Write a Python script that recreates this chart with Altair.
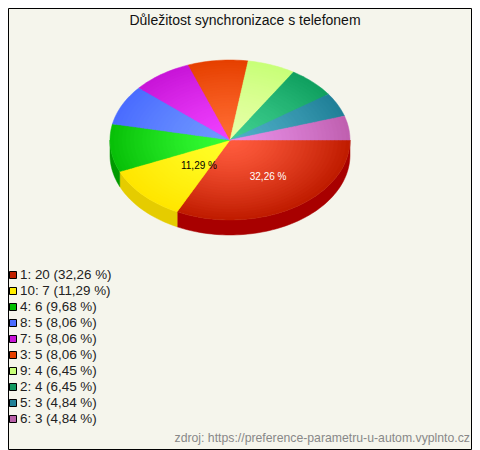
import math
import altair as alt

TITLE = "Důležitost synchronizace s telefonem"
SOURCE = "zdroj: https://preference-parametru-u-autom.vyplnto.cz"
categories = ["1", "10", "4", "8", "7", "3", "9", "2", "5", "6"]
counts = [20, 7, 6, 5, 5, 5, 4, 4, 3, 3]
percent_labels = ["32,26 %", "11,29 %", "9,68 %", "8,06 %", "8,06 %", "8,06 %", "6,45 %", "6,45 %", "4,84 %", "4,84 %"]
legend_colors = ["#c02000", "#ffee00", "#00c000", "#4a6cff", "#c815d8", "#e64000", "#c8ff78", "#109860", "#208098", "#b860a8"]
inner_colors = ["#ff5c3e", "#ffff28", "#36ff36", "#7099ff", "#f040ff", "#ff6c32", "#e8ffa8", "#40d090", "#50b0c8", "#e890e8"]
outer_colors = ["#c01c00", "#ffe600", "#08c008", "#4a6cff", "#c815d8", "#e64000", "#c8ff78", "#10a060", "#208098", "#c060b0"]
rim_colors = ["#a80000", "#e5cc00", "#009a00"]
shown_labels = {0: (0.60, 0.545, "white"), 1: (0.357, 0.47, "black")}

BG = "#f5f5ec"
W, H = 464, 442
OFF = 8
CX, CY, RX, RY, DEPTH = 230 - OFF, 140 - OFF, 120, 80, 15
RINGS = 30


def mix(a, b, t):
    pa = [int(a[i:i + 2], 16) for i in (1, 3, 5)]
    pb = [int(b[i:i + 2], 16) for i in (1, 3, 5)]
    return "#%02x%02x%02x" % tuple(round(x + (y - x) * t) for x, y in zip(pa, pb))


def arc(a0, a1, k=1.0, dy=0.0):
    n = max(2, int((a1 - a0) / 0.03))
    return [[CX + k * RX * math.cos(a0 + (a1 - a0) * i / n),
             CY + dy + k * RY * math.sin(a0 + (a1 - a0) * i / n)] for i in range(n + 1)]


def feature(ring, fill):
    return {"type": "Feature", "properties": {"fill": fill},
            "geometry": {"type": "Polygon", "coordinates": [ring + [ring[0]]]}}


total = sum(counts)
edges = [0.0]
for c in counts:
    edges.append(edges[-1] + c / total * 2 * math.pi)

features = []
for i, rim in enumerate(rim_colors):
    a0, a1 = edges[i], min(edges[i + 1], math.pi)
    top = arc(a0, a1)
    bottom = arc(a0, a1, dy=DEPTH)
    features.append(feature(top + bottom[::-1], rim))

for r in range(RINGS, 0, -1):
    k = r / RINGS
    for i in range(len(counts)):
        ring = [[CX, CY]] + arc(edges[i], edges[i + 1], k)
        features.append(feature(ring, mix(inner_colors[i], outer_colors[i], k ** 1.3)))

projection = alt.Projection(type="identity", scale=1, translate=[0, 0])
pie = alt.Chart(alt.Data(values=features)).mark_geoshape(strokeWidth=0.5).encode(
    fill=alt.Fill("properties.fill:N", scale=None),
    stroke=alt.Stroke("properties.fill:N", scale=None),
).project(**projection.to_dict())

px = alt.Scale(domain=[0, W], range=[0, W])
py = alt.Scale(domain=[0, H], range=[0, H])
X = alt.X("x:Q", scale=px, axis=None)
Y = alt.Y("y:Q", scale=py, axis=None)

legend_rows = [{"x": 13 - OFF, "tx": 20 - OFF, "y": 275 - OFF + 16 * i,
                "fill": legend_colors[i],
                "label": f"{categories[i]}: {counts[i]} ({percent_labels[i]})"}
               for i in range(len(categories))]
swatches = alt.Chart(alt.Data(values=legend_rows)).mark_square(
    size=49, stroke="black", strokeWidth=1, opacity=1, filled=True
).encode(X, Y, fill=alt.Fill("fill:N", scale=None))
legend_text = alt.Chart(alt.Data(values=legend_rows)).mark_text(
    align="left", baseline="middle", font="Liberation Sans", fontSize=13.4, color="#222222"
).encode(alt.X("tx:Q", scale=px, axis=None), Y, text="label:N")

label_rows = []
for i, (fx, fy, col) in shown_labels.items():
    mid = (edges[i] + edges[i + 1]) / 2
    label_rows.append({"x": CX + fx * RX * math.cos(mid), "y": CY + fy * RY * math.sin(mid),
                       "label": percent_labels[i], "col": col})
slice_labels = alt.Chart(alt.Data(values=label_rows)).mark_text(
    align="center", baseline="middle", font="Liberation Sans", fontSize=10
).encode(X, Y, text="label:N", fill=alt.Fill("col:N", scale=None))

title = alt.Chart(alt.Data(values=[{"x": 245 - OFF, "y": 21 - OFF, "t": TITLE}])).mark_text(
    align="center", baseline="middle", font="Liberation Sans", fontSize=14, color="#111111"
).encode(X, Y, text="t:N")
source = alt.Chart(alt.Data(values=[{"x": 470 - OFF, "y": 438 - OFF, "t": SOURCE}])).mark_text(
    align="right", baseline="middle", font="Liberation Sans", fontSize=12.25, color="#888888"
).encode(X, Y, text="t:N")

frame = alt.Chart(alt.Data(values=[{"x": 0.5, "x2": W - 0.5, "y": 0.5, "y2": H - 0.5}])).mark_rect(
    fill="transparent", stroke="black", strokeWidth=1
).encode(X, alt.X2("x2:Q"), Y, alt.Y2("y2:Q"))

chart = alt.layer(pie, swatches, legend_text, slice_labels, title, source, frame).properties(
    width=W, height=H, background=BG, padding=0,
    autosize=alt.AutoSizeParams(type="none"),
).configure_view(stroke=None)

chart.save("out.html", embed_options={"renderer": "svg", "actions": False})
